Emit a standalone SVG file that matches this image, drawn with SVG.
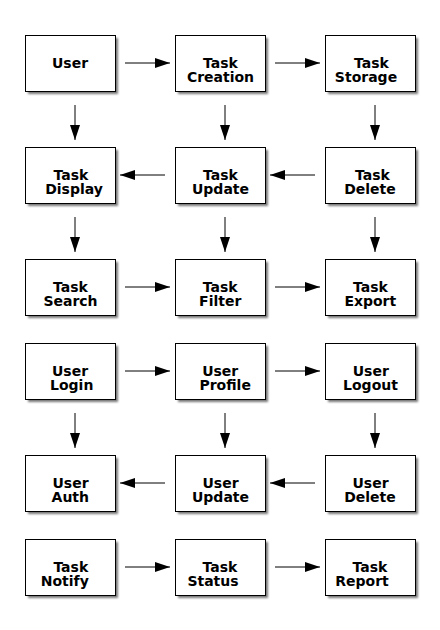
<svg xmlns="http://www.w3.org/2000/svg" width="440" height="630" viewBox="0 0 440 630">
<style>
.box{fill:#fff;stroke:#000;stroke-width:1}
.sh{fill:#777;filter:url(#blur)}
text{font-family:"DejaVu Sans","Liberation Sans",sans-serif;font-weight:bold;font-size:14px;fill:#000;text-anchor:middle}
.c line{stroke:#000;stroke-width:1;marker-end:url(#ah)}
</style>
<defs>
<filter id="blur" x="-10%" y="-10%" width="130%" height="130%"><feGaussianBlur stdDeviation="1.2"/></filter>
<marker id="ah" markerWidth="15" markerHeight="10" refX="15" refY="5" orient="auto" markerUnits="userSpaceOnUse"><path d="M0,0 L15,5 L0,10 Z" fill="#000"/></marker>
<g id="nodebox"><rect class="sh" x="3" y="3" width="90" height="56"/><rect class="box" x="0.5" y="0.5" width="90" height="56"/></g>
</defs>
<rect width="440" height="630" fill="#fff"/>
<g class="c" id="connectors">
<line x1="125" y1="63" x2="170" y2="63"/>
<line x1="275" y1="63" x2="320" y2="63"/>
<line x1="75" y1="105" x2="75" y2="140"/>
<line x1="225" y1="105" x2="225" y2="140"/>
<line x1="375" y1="105" x2="375" y2="140"/>
<line x1="315" y1="175" x2="270" y2="175"/>
<line x1="165" y1="175" x2="120" y2="175"/>
<line x1="75" y1="217" x2="75" y2="252"/>
<line x1="225" y1="217" x2="225" y2="252"/>
<line x1="375" y1="217" x2="375" y2="252"/>
<line x1="125" y1="287" x2="170" y2="287"/>
<line x1="275" y1="287" x2="320" y2="287"/>
<line x1="125" y1="371" x2="170" y2="371"/>
<line x1="275" y1="371" x2="320" y2="371"/>
<line x1="75" y1="413" x2="75" y2="448"/>
<line x1="225" y1="413" x2="225" y2="448"/>
<line x1="375" y1="413" x2="375" y2="448"/>
<line x1="315" y1="483" x2="270" y2="483"/>
<line x1="165" y1="483" x2="120" y2="483"/>
<line x1="125" y1="567" x2="170" y2="567"/>
<line x1="275" y1="567" x2="320" y2="567"/>
</g>
<g id="user" transform="translate(25,35)"><use href="#nodebox"/><text x="45" y="33">User</text></g>
<g id="task-creation" transform="translate(175,35)"><use href="#nodebox"/><text x="45.5" y="32.5">Task</text><text x="45.5" y="47">Creation</text></g>
<g id="task-storage" transform="translate(325,35)"><use href="#nodebox"/><text x="46.5" y="32.5">Task</text><text x="41" y="47">Storage</text></g>
<g id="task-display" transform="translate(25,147)"><use href="#nodebox"/><text x="46" y="32.5">Task</text><text x="49" y="47">Display</text></g>
<g id="task-update" transform="translate(175,147)"><use href="#nodebox"/><text x="45.5" y="32.5">Task</text><text x="45.5" y="47">Update</text></g>
<g id="task-delete" transform="translate(325,147)"><use href="#nodebox"/><text x="47.5" y="32.5">Task</text><text x="45" y="47">Delete</text></g>
<g id="task-search" transform="translate(25,259)"><use href="#nodebox"/><text x="45.5" y="32.5">Task</text><text x="45.5" y="47">Search</text></g>
<g id="task-filter" transform="translate(175,259)"><use href="#nodebox"/><text x="45.2" y="32.5">Task</text><text x="45.2" y="47">Filter</text></g>
<g id="task-export" transform="translate(325,259)"><use href="#nodebox"/><text x="45.5" y="32.5">Task</text><text x="45.3" y="47">Export</text></g>
<g id="user-login" transform="translate(25,343)"><use href="#nodebox"/><text x="45" y="32.5">User</text><text x="46.7" y="47">Login</text></g>
<g id="user-profile" transform="translate(175,343)"><use href="#nodebox"/><text x="45.2" y="32.5">User</text><text x="50.2" y="47">Profile</text></g>
<g id="user-logout" transform="translate(325,343)"><use href="#nodebox"/><text x="45.8" y="32.5">User</text><text x="45.5" y="47">Logout</text></g>
<g id="user-auth" transform="translate(25,455)"><use href="#nodebox"/><text x="45.5" y="32.5">User</text><text x="45.3" y="47">Auth</text></g>
<g id="user-update" transform="translate(175,455)"><use href="#nodebox"/><text x="45.5" y="32.5">User</text><text x="45.5" y="47">Update</text></g>
<g id="user-delete" transform="translate(325,455)"><use href="#nodebox"/><text x="45.5" y="32.5">User</text><text x="45" y="47">Delete</text></g>
<g id="task-notify" transform="translate(25,539)"><use href="#nodebox"/><text x="45.8" y="32.5">Task</text><text x="39.8" y="47">Notify</text></g>
<g id="task-status" transform="translate(175,539)"><use href="#nodebox"/><text x="45" y="32.5">Task</text><text x="38" y="47">Status</text></g>
<g id="task-report" transform="translate(325,539)"><use href="#nodebox"/><text x="45" y="32.5">Task</text><text x="37" y="47">Report</text></g>
</svg>
